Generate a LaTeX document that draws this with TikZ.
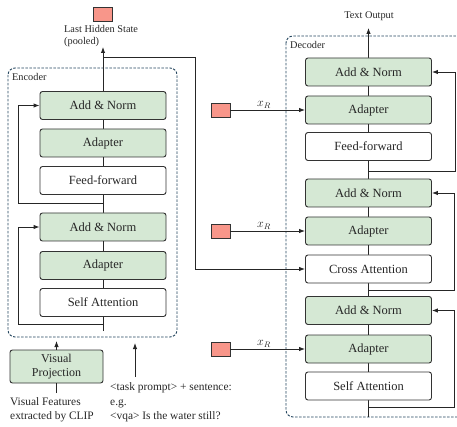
\documentclass[tikz,border=0pt]{standalone}
\usepackage{fontspec}
\setmainfont{Liberation Serif}
\usetikzlibrary{arrows.meta}
\definecolor{gfill}{HTML}{D5E8D4}
\definecolor{pfill}{HTML}{F8968A}
\definecolor{dline}{HTML}{23445D}
\definecolor{bline}{HTML}{333333}
\tikzset{
  blk/.style={draw=bline, line width=0.9pt, rounded corners=2.5pt, minimum width=126pt, minimum height=28pt, inner sep=0pt, font=\fontsize{12.5}{14}\selectfont, text=black!85},
  gblk/.style={blk, fill=gfill},
  wblk/.style={blk, fill=white},
  sq/.style={draw=bline, line width=0.9pt, fill=pfill, minimum width=19pt, minimum height=14pt, inner sep=0pt},
  conn/.style={draw=black!85, line width=0.9pt},
  arr/.style={conn, -{Latex[length=6pt,width=4.5pt]}},
  dbox/.style={draw=dline, line width=0.9pt, dashed, dash pattern=on 2.5pt off 1.5pt, rounded corners=7pt},
  lbl/.style={font=\fontsize{10.3}{12.5}\selectfont, text=black!85, inner sep=0pt},
  xlbl/.style={font=\fontsize{11.5}{13}\selectfont, text=black!85, inner sep=0pt},
  blbl/.style={font=\fontsize{11.4}{14.5}\selectfont, text=black!85, inner sep=0pt, align=left},
}
\begin{document}
\begin{tikzpicture}[x=1pt,y=-1pt]
\useasboundingbox (0,0) rectangle (457,427);
% dashed containers
\draw[dbox] (8,68) rectangle (177,337);
\draw[dbox] (286,36) rectangle (470,417);
\node[lbl, anchor=west] (enclbl) at (12,77) {Encoder};
\node[lbl, anchor=west] (declbl) at (290,45) {Decoder};

% encoder coordinates
\coordinate (ebot) at (103,331);
\coordinate (etop) at (103,47);
\coordinate (ebranch) at (103,57);
\coordinate (eturn) at (195,57);
\coordinate (r1a) at (103,203);
\coordinate (r1b) at (18,203);
\coordinate (r2a) at (103,324);
\coordinate (r2b) at (18,324);
\draw[arr] (ebot) -- (etop);
\draw[conn] (ebranch) -- (eturn);

% encoder blocks
\node[gblk] (ean1) at (103,105.5) {Add \& Norm};
\node[gblk] (ead1) at (103,143) {Adapter};
\node[wblk] (eff) at (103,180.5) {Feed-forward};
\node[gblk] (ean2) at (103,227) {Add \& Norm};
\node[gblk] (ead2) at (103,265.5) {Adapter};
\node[wblk] (esa) at (103,302.5) {Self Attention};

\draw[arr] (r1a) -- (r1b) |- (ean1.west);
\draw[arr] (r2a) -- (r2b) |- (ean2.west);

\node[sq] (hsq) at (102.5,14) {};
\node[lbl, anchor=west, align=left] (hlbl) at (64,36) {Last Hidden State\\(pooled)};

% decoder
\coordinate (dbot) at (368.5,417);
\coordinate (dtop) at (368.5,28);
\draw[arr] (dbot) -- (dtop);
\node[lbl] (tout) at (369,16) {Text Output};

\node[gblk] (dan1) at (368.5,72) {Add \& Norm};
\node[gblk] (dad1) at (368.5,110) {Adapter};
\node[wblk] (dff) at (368.5,146.5) {Feed-forward};
\node[gblk] (dan2) at (368.5,193) {Add \& Norm};
\node[gblk] (dad2) at (368.5,231) {Adapter};
\node[wblk] (dca) at (368.5,269) {Cross Attention};
\node[gblk] (dan3) at (368.5,310.5) {Add \& Norm};
\node[gblk] (dad3) at (368.5,349) {Adapter};
\node[wblk] (dsa) at (368.5,386) {Self Attention};

\coordinate (d1a) at (368.5,171);
\coordinate (d1b) at (455,171);
\coordinate (d2a) at (368.5,290);
\coordinate (d2b) at (454,290);
\coordinate (d3a) at (368.5,407);
\coordinate (d3b) at (454,407);
\draw[arr] (d1a) -- (d1b) |- (dan1.east);
\draw[arr] (d2a) -- (d2b) |- (dan2.east);
\draw[arr] (d3a) -- (d3b) |- (dan3.east);

% pooled to cross attention
\draw[arr] (eturn) |- (dca.west);

% x_R inputs
\node[sq] (xs1) at (220.5,110) {};
\node[sq] (xs2) at (220.5,231) {};
\node[sq] (xs3) at (220.5,349) {};
\draw[arr] (xs1.east) -- node[pos=0.45, above=1.5pt, xlbl] {$x_R$} (dad1.west);
\draw[arr] (xs2.east) -- node[pos=0.45, above=1.5pt, xlbl] {$x_R$} (dad2.west);
\draw[arr] (xs3.east) -- node[pos=0.45, above=1.5pt, xlbl] {$x_R$} (dad3.west);

% visual projection
\node[gblk, minimum width=93pt, minimum height=33pt, align=center, font=\fontsize{12}{14}\selectfont] (vp) at (56.5,366.5) {Visual\\Projection};
\coordinate (vptip) at (56.5,341);
\coordinate (vpin) at (56.5,393);
\draw[arr] (vp.north) -- (vptip);
\draw[conn] (vpin) -- (vp.south);
\node[blbl, anchor=west] (vf) at (10,410) {Visual Features\\extracted by CLIP};

\coordinate (tin) at (135,377);
\coordinate (ttip) at (135,343);
\draw[arr] (tin) -- (ttip);
\node[blbl, anchor=west] (tp) at (110,402.5) {<task prompt> + sentence:\\e.g.\\<vqa> Is the water still?};
\end{tikzpicture}
\end{document}
